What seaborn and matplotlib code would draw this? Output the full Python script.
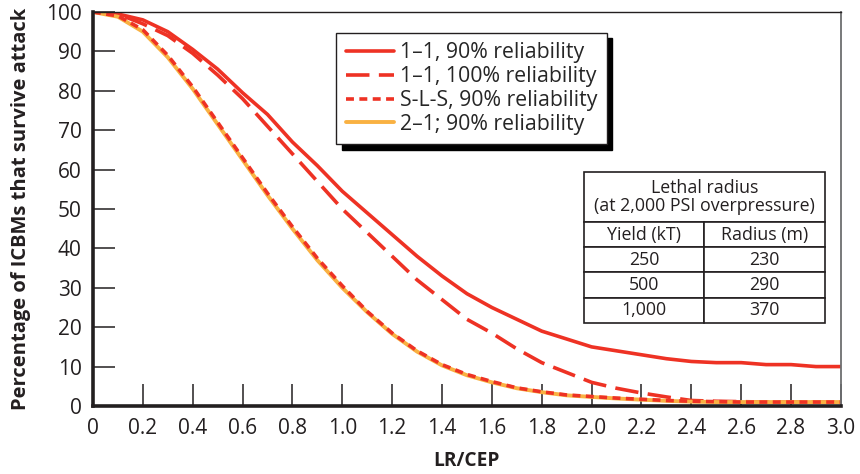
import pandas as pd
import seaborn as sns
import matplotlib.pyplot as plt
from matplotlib.patches import Rectangle

# =============================================================================
# Data
# =============================================================================

lr_cep = [0.0, 0.1, 0.2, 0.3, 0.4, 0.5, 0.6, 0.7, 0.8, 0.9, 1.0,
          1.1, 1.2, 1.3, 1.4, 1.5, 1.6, 1.7, 1.8, 1.9, 2.0,
          2.1, 2.2, 2.3, 2.4, 2.5, 2.6, 2.7, 2.8, 2.9, 3.0]

one_one_90 = [100, 99.5, 98, 95, 90.5, 85.5, 79.5, 74, 67, 61, 54.5,
              49, 43.5, 38, 33, 28.5, 25, 22, 19, 17, 15,
              14, 13, 12, 11.3, 11, 11, 10.5, 10.5, 10, 10]

one_one_100 = [100, 99.5, 97, 94, 89.5, 84, 78, 71, 64, 57, 50,
               44, 38, 32, 27, 22, 18.5, 14.5, 11, 8.5, 6,
               4.5, 3.3, 2.3, 1.4, 1.2, 1.1, 1, 1, 1, 1]

sls_90 = [100, 99, 95.5, 89, 81, 72, 63, 54, 45.5, 37.5, 30.5,
          24, 18.5, 14, 10.5, 8, 6.2, 4.6, 3.6, 2.8, 2.4,
          2, 1.7, 1.4, 1.2, 1.1, 1, 1, 1, 1, 1]

two_one_90 = [100, 98.8, 95, 88.5, 80.5, 71.5, 62.5, 53.5, 45, 37, 30,
              23.8, 18.3, 13.8, 10.3, 7.8, 6, 4.5, 3.5, 2.7, 2.3,
              1.9, 1.6, 1.3, 1.1, 1, 1, 1, 1, 1, 1]

series_labels = ['1\u20131, 90% reliability', '1\u20131, 100% reliability',
                 'S-L-S, 90% reliability', '2\u20131; 90% reliability']

table_title = 'Lethal radius\n(at 2,000 PSI overpressure)'
table_header = ['Yield (kT)', 'Radius (m)']
yields = ['250', '500', '1,000']
radii = ['230', '290', '370']

x_ticks = [0, 0.2, 0.4, 0.6, 0.8, 1.0, 1.2, 1.4, 1.6, 1.8, 2.0,
           2.2, 2.4, 2.6, 2.8, 3.0]
x_tick_labels = ['0', '0.2', '0.4', '0.6', '0.8', '1.0', '1.2', '1.4', '1.6',
                 '1.8', '2.0', '2.2', '2.4', '2.6', '2.8', '3.0']
y_ticks = list(range(0, 101, 10))

df = pd.DataFrame({
    'lr': lr_cep,
    'one_one_90': one_one_90,
    'one_one_100': one_one_100,
    'sls_90': sls_90,
    'two_one_90': two_one_90,
})

# =============================================================================
# Plot
# =============================================================================

sns.set_theme(style="ticks")
plt.rcParams['font.family'] = ['Open Sans', 'DejaVu Sans']

red = '#EE3224'
orange = '#F9B142'
ink = '#231f20'

fig = plt.figure(figsize=(8.6, 4.74), dpi=100)
ax = fig.add_axes([0.1081, 0.1435, 0.8697, 0.8312])

sns.lineplot(data=df, x='lr', y='one_one_90', ax=ax, color=red, lw=2.6,
             label=series_labels[0])
sns.lineplot(data=df, x='lr', y='one_one_100', ax=ax, color=red, lw=2.6,
             label=series_labels[1])
ax.lines[-1].set_dashes((6.5, 2.6))
sns.lineplot(data=df, x='lr', y='two_one_90', ax=ax, color=orange, lw=2.8,
             label=series_labels[3])
sns.lineplot(data=df, x='lr', y='sls_90', ax=ax, color=red, lw=2.6,
             label=series_labels[2])
ax.lines[-1].set_dashes((2.2, 1.5))

ax.set_xlim(0, 3.0)
ax.set_ylim(0, 100)
ax.set_xticks(x_ticks)
ax.set_xticklabels(x_tick_labels)
ax.set_yticks(y_ticks)
ax.tick_params(axis='both', direction='in', length=16, width=1.1,
               color=ink, labelsize=15, labelcolor=ink)
ax.tick_params(axis='x', pad=9)
ax.tick_params(axis='y', pad=8)

for side in ['left', 'bottom']:
    ax.spines[side].set_linewidth(2.6)
    ax.spines[side].set_color(ink)
ax.spines['top'].set_visible(True)
ax.spines['top'].set_linewidth(1.0)
ax.spines['top'].set_color(ink)
ax.spines['right'].set_visible(True)
ax.spines['right'].set_linewidth(1.3)
ax.spines['right'].set_color('#6d6e70')

ax.set_xlabel('LR/CEP', fontsize=13.8, fontweight='bold', color=ink,
              labelpad=8)
ax.set_ylabel('Percentage of ICBMs that survive attack', fontsize=14.5,
              fontweight='bold', color=ink, labelpad=11)

# legend (order as in the reference)
handles, labels = ax.get_legend_handles_labels()
order = [labels.index(l) for l in series_labels]
leg = ax.legend([handles[i] for i in order], [labels[i] for i in order],
                loc='upper left', bbox_to_anchor=(0.325, 0.947),
                borderaxespad=0, fontsize=15.3, handlelength=2.3,
                handletextpad=0.25, labelspacing=0.13, borderpad=0.45,
                fancybox=False, framealpha=1, edgecolor=ink,
                shadow={'color': 'black', 'alpha': 1, 'ox': 4, 'oy': -4})
leg.get_frame().set_linewidth(1.0)

# lethal radius table
x0, x1 = 0.656, 0.979
ax.add_patch(Rectangle((x0, 0.467), x1 - x0, 0.127, transform=ax.transAxes,
                       facecolor='white', edgecolor=ink, lw=1.2, zorder=5))
ax.text((x0 + x1) / 2, 0.5305, table_title, transform=ax.transAxes,
        ha='center', va='center', fontsize=12.8, color=ink,
        linespacing=1.05, zorder=6)
tbl = ax.table(cellText=[[y, r] for y, r in zip(yields, radii)],
               colLabels=table_header, cellLoc='center',
               bbox=[x0, 0.211, x1 - x0, 0.256], zorder=5)
tbl.auto_set_font_size(False)
tbl.set_fontsize(12.8)
for cell in tbl.get_celld().values():
    cell.set_linewidth(1.2)
    cell.set_edgecolor(ink)
    cell.get_text().set_color(ink)

fig.savefig('out.png', dpi=100)
